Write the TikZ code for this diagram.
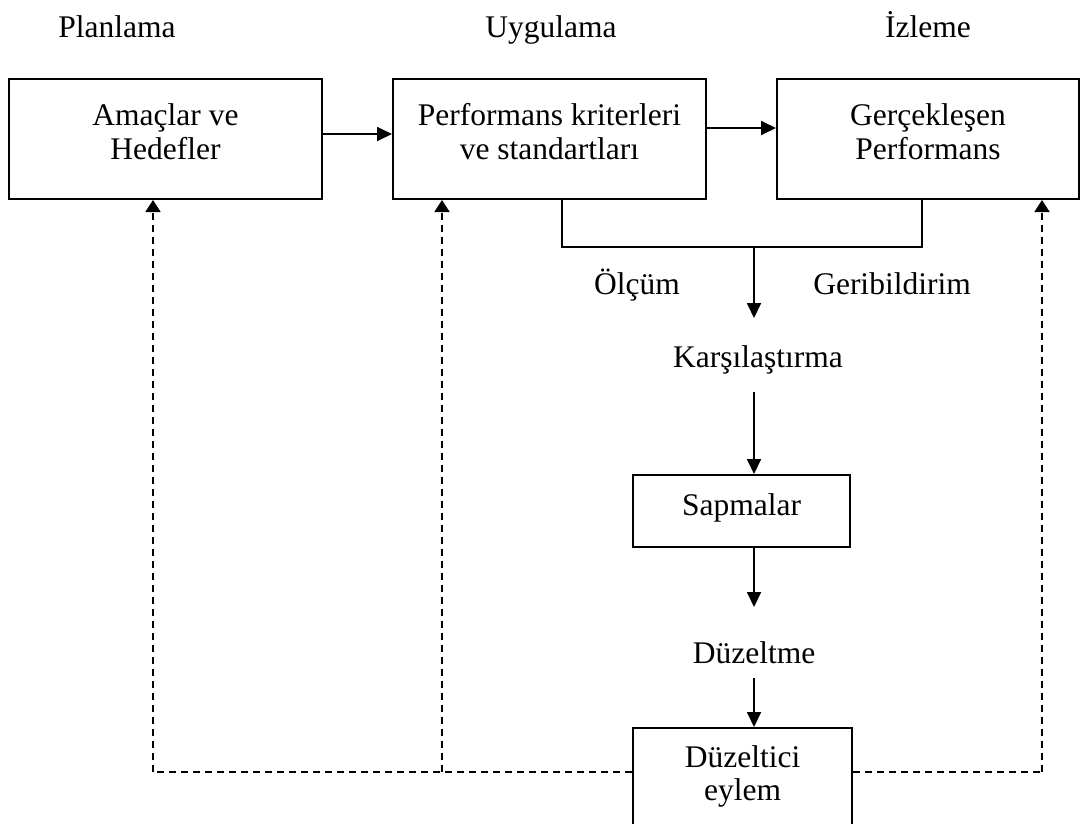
\documentclass[tikz,border=0pt]{standalone}
\usepackage{fontspec}
\setmainfont{Liberation Serif}
\usetikzlibrary{arrows.meta}
\begin{document}
\begin{tikzpicture}[x=1pt,y=-1pt,
  box/.style={draw,line width=2pt,inner sep=0pt},
  txt/.style={anchor=base,inner sep=0pt,font=\fontsize{31.5}{34}\selectfont},
  arr/.style={line width=1.8pt,-{Triangle[length=15pt,width=14pt]}},
  sline/.style={line width=1.8pt},
  dline/.style={line width=1.8pt,dash pattern=on 7pt off 5pt},
  darr/.style={line width=1.8pt,dash pattern=on 7pt off 5pt,-{Triangle[length=12pt,width=15pt]}}]
\useasboundingbox (0,0) rectangle (1081,823);
% headers
\node[txt] (h1) at (117,37) {Planlama};
\node[txt] (h2) at (551,37) {Uygulama};
\node[txt] (h3) at (928,37) {İzleme};
% top boxes
\node[box,minimum width=313pt,minimum height=120pt] (a) at (165.5,139) {};
\node[txt] (a1) at (165.5,125) {Amaçlar ve};
\node[txt] (a2) at (165.5,159) {Hedefler};
\node[box,minimum width=313pt,minimum height=120pt] (b) at (549.5,139) {};
\node[txt] (b1) at (549.5,125) {Performans kriterleri};
\node[txt] (b2) at (549.5,159) {ve standartları};
\node[box,minimum width=302pt,minimum height=120pt] (c) at (928,139) {};
\node[txt] (c1) at (928,125) {Gerçekleşen};
\node[txt] (c2) at (928,159) {Performans};
% middle
\node[txt] (olc) at (637,294) {Ölçüm};
\node[txt] (geri) at (892,294) {Geribildirim};
\node[txt] (kar) at (758,367) {Karşılaştırma};
\node[box,minimum width=217pt,minimum height=72pt] (sap) at (741.5,511) {};
\node[txt] (sapt) at (741.5,515) {Sapmalar};
\node[txt] (duz) at (754,663) {Düzeltme};
\node[box,minimum width=219pt,minimum height=104pt] (dz) at (742.5,780) {};
\node[txt] (dz1) at (742.5,767) {Düzeltici};
\node[txt] (dz2) at (742.5,800) {eylem};
% coordinates
\coordinate (bx) at (562,0);
\coordinate (cx) at (922,0);
\coordinate (m) at (754,247);
\coordinate (mt) at (754,318);
\coordinate (k1) at (754,392);
\coordinate (s1) at (754,607);
\coordinate (d1) at (754,678);
\coordinate (lx) at (153,0);
\coordinate (mx) at (442,0);
\coordinate (rx) at (1042,0);
\coordinate (dy) at (0,772);
% solid connectors
\draw[arr] ([yshift=5pt]a.east) -- ([yshift=5pt]b.west);
\draw[arr] ([yshift=11pt]b.east) -- ([yshift=11pt]c.west);
\draw[sline] (b.south -| bx) -- (bx |- m) -- (cx |- m) -- (c.south -| cx);
\draw[arr] (m) -- (mt);
\draw[arr] (k1) -- (k1 |- sap.north);
\draw[arr] (k1 |- sap.south) -- (s1);
\draw[arr] (d1) -- (d1 |- dz.north);
% dashed feedback
\draw[dline] (dz.west |- dy) -- (lx |- dy);
\draw[darr] (lx |- dy) -- (a.south -| lx);
\draw[darr] (mx |- dy) -- (b.south -| mx);
\draw[dline] (dz.east |- dy) -- (rx |- dy);
\draw[darr] (rx |- dy) -- (c.south -| rx);
\end{tikzpicture}
\end{document}
